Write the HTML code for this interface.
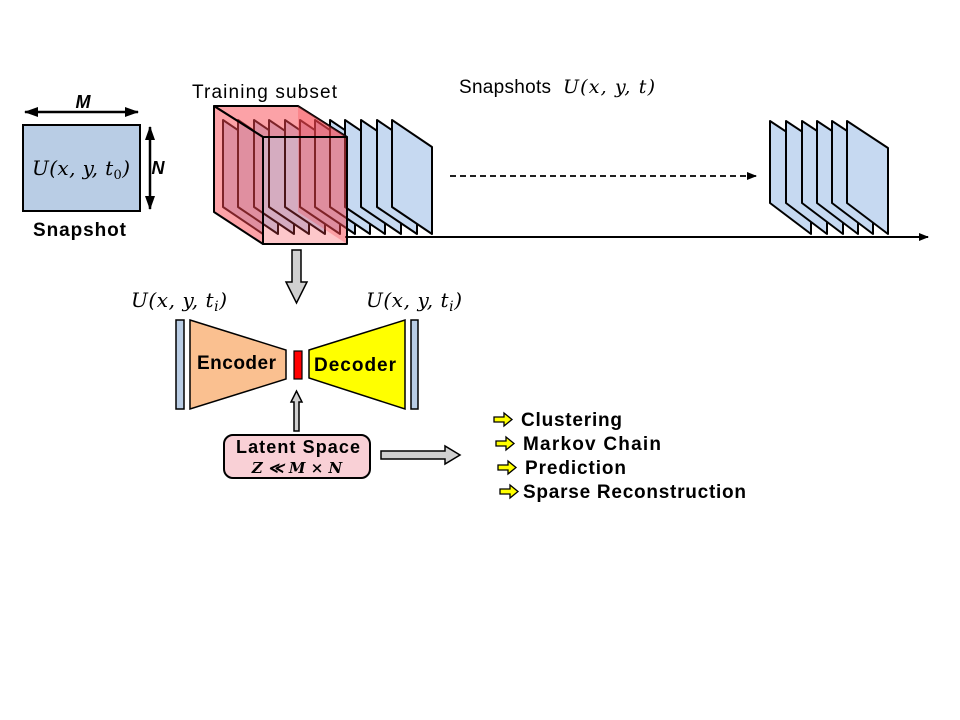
<!DOCTYPE html>
<html><head><meta charset="utf-8"><style>
html,body{margin:0;padding:0;background:#fff;}
svg{display:block;}
.t{font-family:"Liberation Sans",sans-serif;}
.m{font-family:"DejaVu Serif","Liberation Serif",serif;}
</style></head><body>
<svg width="960" height="720" viewBox="0 0 960 720" xmlns="http://www.w3.org/2000/svg">
<defs>
<marker id="ah" markerWidth="10" markerHeight="8" refX="9" refY="4" orient="auto" markerUnits="userSpaceOnUse"><path d="M0,0 L10,4 L0,8 Z" fill="#000"/></marker>
<marker id="ah2" markerWidth="14" markerHeight="10" refX="13" refY="5" orient="auto-start-reverse" markerUnits="userSpaceOnUse"><path d="M0,0 L14,5 L0,10 Z" fill="#000"/></marker>
</defs>
<!-- snapshot -->
<line x1="25" y1="112" x2="138" y2="112" stroke="#000" stroke-width="2.5" marker-start="url(#ah2)" marker-end="url(#ah2)"/>
<text x="83" y="108" class="t" font-size="18" font-weight="bold" font-style="italic" text-anchor="middle">M</text>
<rect x="23" y="125" width="117" height="86" fill="#b9cde5" stroke="#000" stroke-width="2"/>
<text x="32" y="175" class="m" font-size="20" font-style="italic" textLength="98">U(x, y, t<tspan font-size="13" dy="4" font-style="normal">0</tspan><tspan dy="-4">)</tspan></text>
<line x1="150" y1="127" x2="150" y2="209" stroke="#000" stroke-width="2.5" marker-start="url(#ah2)" marker-end="url(#ah2)"/>
<text x="158" y="174" class="t" font-size="18" font-weight="bold" font-style="italic" text-anchor="middle">N</text>
<text x="33" y="236" class="t" font-size="19" font-weight="bold" textLength="93">Snapshot</text>
<text x="192" y="98" class="t" font-size="19" textLength="145">Training subset</text>
<text x="459" y="93" class="t" font-size="19" textLength="92">Snapshots</text>
<text x="563" y="93" class="m" font-size="19" font-style="italic" textLength="92">U(x, y, t)</text>
<!-- timeline -->
<line x1="345" y1="237" x2="928" y2="237" stroke="#000" stroke-width="2" marker-end="url(#ah)"/>
<line x1="450" y1="176" x2="756" y2="176" stroke="#000" stroke-width="1.8" stroke-dasharray="6,4" marker-end="url(#ah)"/>
<!-- left plates -->
<g fill="#c6d9f1" stroke="#000" stroke-width="2" stroke-linejoin="round">
<polygon points="223,120 263,147 263,234 223,207"/>
<polygon points="238,120 278,147 278,234 238,207"/>
<polygon points="254,120 294,147 294,234 254,207"/>
<polygon points="269,120 309,147 309,234 269,207"/>
<polygon points="285,120 325,147 325,234 285,207"/>
<polygon points="300,120 340,147 340,234 300,207"/>
<polygon points="315,120 355,147 355,234 315,207"/>
<polygon points="330,120 370,147 370,234 330,207"/>
<polygon points="345,120 385,147 385,234 345,207"/>
<polygon points="361,120 401,147 401,234 361,207"/>
<polygon points="377,120 417,147 417,234 377,207"/>
<polygon points="392,120 432,147 432,234 392,207"/>
</g>
<!-- red cube -->
<g fill="rgba(250,70,80,0.5)" stroke="#000" stroke-width="2" stroke-linejoin="round">
<polygon points="214,106 298,106 347,137 263,137"/>
<polygon points="214,106 263,137 263,244 214,212"/>
<polygon points="298,106 347,137 347,244 298,212" fill="rgba(250,70,80,0.3)" stroke="none"/>
<rect x="263" y="137" width="84" height="107" fill="rgba(250,70,80,0.3)"/>
</g>
<!-- right plates -->
<g fill="#c6d9f1" stroke="#000" stroke-width="2" stroke-linejoin="round">
<polygon points="770,121 811,148 811,234 770,203"/>
<polygon points="786,121 827,148 827,234 786,203"/>
<polygon points="802,121 843,148 843,234 802,203"/>
<polygon points="817,121 858,148 858,234 817,203"/>
<polygon points="832,121 873,148 873,234 832,203"/>
<polygon points="847,121 888,148 888,234 847,203"/>
</g>
<!-- down arrow -->
<polygon points="292,250 301,250 301,282 307,282 296.5,303 286,282 292,282" fill="#d0d0d0" stroke="#000" stroke-width="1.5"/>
<text x="131" y="307" class="m" font-size="20" font-style="italic" textLength="96">U(x, y, t<tspan font-size="14" dy="4">i</tspan><tspan dy="-4">)</tspan></text>
<text x="366" y="307" class="m" font-size="20" font-style="italic" textLength="96">U(x, y, t<tspan font-size="14" dy="4">i</tspan><tspan dy="-4">)</tspan></text>
<!-- autoencoder -->
<rect x="176" y="320" width="8" height="89" fill="#b9cde5" stroke="#000" stroke-width="1.5"/>
<polygon points="190,320 286,350 286,379 190,409" fill="#fac090" stroke="#000" stroke-width="1.5"/>
<text x="197" y="369" class="t" font-size="19" font-weight="bold" textLength="79">Encoder</text>
<rect x="294" y="351" width="8" height="28" fill="#ff0000" stroke="#000" stroke-width="1.2"/>
<polygon points="309,350 405,320 405,409 309,378" fill="#ffff00" stroke="#000" stroke-width="1.5"/>
<text x="314" y="371" class="t" font-size="19" font-weight="bold" textLength="82">Decoder</text>
<rect x="411" y="320" width="7" height="89" fill="#b9cde5" stroke="#000" stroke-width="1.5"/>
<!-- up arrow -->
<polygon points="294,431 299,431 299,402 302,402 296.5,391 291,402 294,402" fill="#d0d0d0" stroke="#000" stroke-width="1.5"/>
<rect x="224" y="435" width="146" height="43" rx="9" fill="#f9d0d6" stroke="#000" stroke-width="2"/>
<text x="236" y="453" class="t" font-size="18" font-weight="bold" textLength="124">Latent Space</text>
<text x="297" y="473" class="m" font-size="15" font-weight="bold" font-style="italic" text-anchor="middle">Z ≪ M × N</text>
<polygon points="381,451 445,451 445,446 460,455 445,464 445,459 381,459" fill="#d0d0d0" stroke="#000" stroke-width="1.5"/>
<!-- list -->
<g fill="#ffff00" stroke="#000" stroke-width="1.3">
<polygon points="494,417 504,417 504,413 512,419.5 504,426 504,422 494,422"/>
<polygon points="496,441 506,441 506,437 514,443.5 506,450 506,446 496,446"/>
<polygon points="498,465 508,465 508,461 516,467.5 508,474 508,470 498,470"/>
<polygon points="500,489 510,489 510,485 518,491.5 510,498 510,494 500,494"/>
</g>
<g class="t" font-size="19" font-weight="bold">
<text x="521" y="426" textLength="101">Clustering</text>
<text x="523" y="450" textLength="138">Markov Chain</text>
<text x="525" y="474" textLength="101">Prediction</text>
<text x="523" y="498" textLength="223">Sparse Reconstruction</text>
</g>
</svg>
</body></html>
